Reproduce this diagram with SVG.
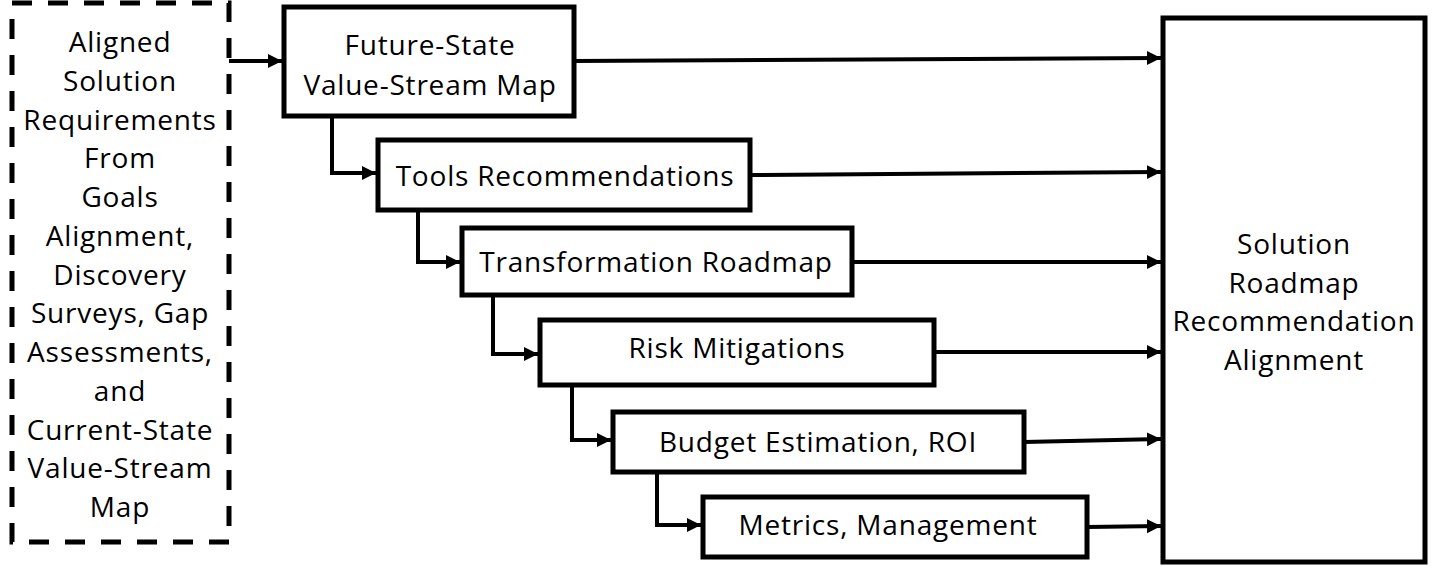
<svg xmlns="http://www.w3.org/2000/svg" width="1445" height="566" viewBox="0 0 1445 566">
<style>
.box{fill:#fff;stroke:#000;stroke-width:5}
.dash{fill:#fff;stroke:#000;stroke-width:5;stroke-dasharray:20 16}
.t{font-family:"Open Sans","Liberation Sans",sans-serif;font-size:28px;letter-spacing:0.8px;fill:#000;text-anchor:middle}
.c{fill:none;stroke:#000;stroke-width:4}
</style>
<defs>
<marker id="ah" markerUnits="userSpaceOnUse" markerWidth="15" markerHeight="15" refX="14" refY="7" orient="auto">
<path d="M0,0 L14,7 L0,14 z" fill="#000"/>
</marker>
</defs>
<g id="connectors">
<path class="c" d="M229,61 H282" marker-end="url(#ah)"/>
<path class="c" d="M332,116 V173 H376" marker-end="url(#ah)"/>
<path class="c" d="M418,210 V262 H460" marker-end="url(#ah)"/>
<path class="c" d="M493,295 V354 H538" marker-end="url(#ah)"/>
<path class="c" d="M572,385 V440 H611" marker-end="url(#ah)"/>
<path class="c" d="M657,472 V525 H701" marker-end="url(#ah)"/>
<path class="c" d="M574,61 L1161,58" marker-end="url(#ah)"/>
<path class="c" d="M750,175 L1161,172" marker-end="url(#ah)"/>
<path class="c" d="M852,262 L1161,262" marker-end="url(#ah)"/>
<path class="c" d="M934,352 L1161,352" marker-end="url(#ah)"/>
<path class="c" d="M1024,442 L1161,439" marker-end="url(#ah)"/>
<path class="c" d="M1087,527 L1161,526" marker-end="url(#ah)"/>
</g>
<g id="inputs">
<rect class="dash" x="12" y="3" width="217" height="539"/>
<text class="t" x="120"><tspan x="120" y="52">Aligned</tspan><tspan x="120" y="90.75">Solution</tspan><tspan x="120" y="129.5">Requirements</tspan><tspan x="120" y="168.25">From</tspan><tspan x="120" y="207">Goals</tspan><tspan x="120" y="245.75">Alignment,</tspan><tspan x="120" y="284.5">Discovery</tspan><tspan x="120" y="323.25">Surveys, Gap</tspan><tspan x="120" y="362">Assessments,</tspan><tspan x="120" y="400.75">and</tspan><tspan x="120" y="439.5">Current-State</tspan><tspan x="120" y="478.25">Value-Stream</tspan><tspan x="120" y="517">Map</tspan></text>
</g>
<g id="future-state">
<rect class="box" x="284" y="7" width="290" height="109"/>
<text class="t"><tspan x="430" y="55">Future-State</tspan><tspan x="430" y="95">Value-Stream Map</tspan></text>
</g>
<g id="tools">
<rect class="box" x="378" y="140" width="372" height="70"/>
<text class="t" x="565" y="186">Tools Recommendations</text>
</g>
<g id="transformation">
<rect class="box" x="462" y="228" width="390" height="67"/>
<text class="t" x="656" y="272">Transformation Roadmap</text>
</g>
<g id="risk">
<rect class="box" x="540" y="320" width="394" height="65"/>
<text class="t" x="737" y="358">Risk Mitigations</text>
</g>
<g id="budget">
<rect class="box" x="613" y="412" width="411" height="60"/>
<text class="t" x="818" y="452">Budget Estimation, ROI</text>
</g>
<g id="metrics">
<rect class="box" x="703" y="497" width="384" height="60"/>
<text class="t" x="888" y="535">Metrics, Management</text>
</g>
<g id="solution">
<rect class="box" x="1163" y="18" width="262" height="544"/>
<text class="t"><tspan x="1294" y="254">Solution</tspan><tspan x="1294" y="293">Roadmap</tspan><tspan x="1294" y="331">Recommendation</tspan><tspan x="1294" y="370">Alignment</tspan></text>
</g>
</svg>
